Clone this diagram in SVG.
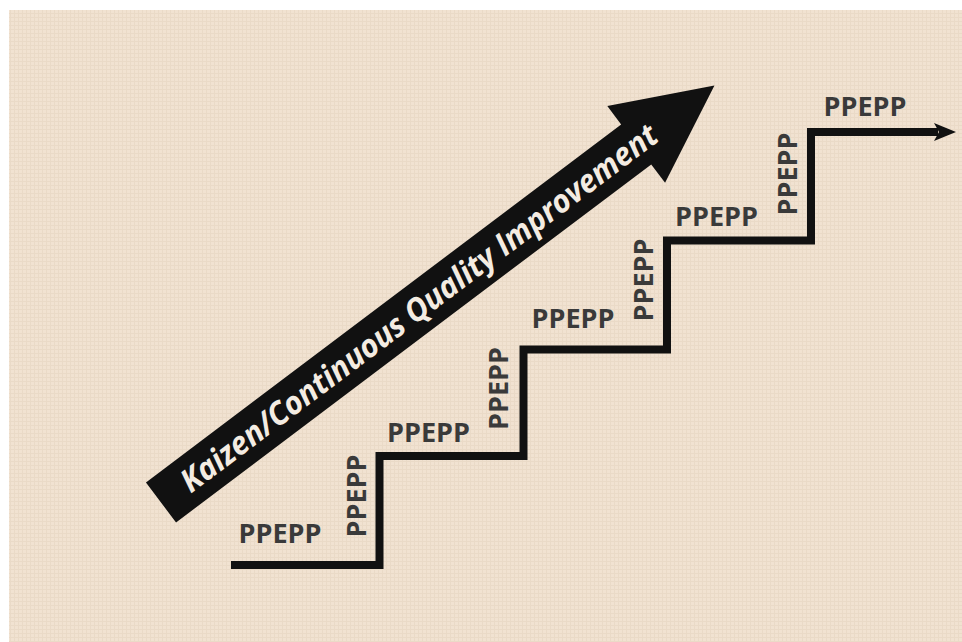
<svg xmlns="http://www.w3.org/2000/svg" width="962" height="642" viewBox="0 0 962 642">
  <defs>
    <pattern id="canvas" width="4" height="4" patternUnits="userSpaceOnUse">
      <rect width="4" height="4" fill="#f1e2d1"/>
      <path d="M0,1.5 H4 M2.5,0 V4" stroke="#dbc6b0" stroke-width="1" opacity="0.3"/>
    </pattern>
    <marker id="stepHead" markerUnits="userSpaceOnUse" markerWidth="24" markerHeight="22" viewBox="0 0 24 22" refX="4" refY="11" orient="auto">
      <path d="M0,2 L22,11 L0,20 L5,11 Z" fill="#111"/>
    </marker>
    <style>
      .lbl { font-family: "Open Sans", "DejaVu Sans", sans-serif; font-weight: 700; font-size: 27px; fill: #3a3a3a; text-anchor: middle; }
      .stairs { fill: none; stroke: #111; stroke-width: 8; stroke-linejoin: miter; stroke-linecap: butt; }
      .bigarrow { fill: #111; }
      .arrowtxt { font-family: "Open Sans", "DejaVu Sans", sans-serif; font-weight: 700; font-style: italic; font-size: 32px; fill: #f4ece2; text-anchor: middle; }
    </style>
  </defs>

  <rect x="0" y="0" width="962" height="642" fill="#ffffff"/>
  <rect x="9" y="10" width="953" height="632" fill="url(#canvas)"/>

  <g id="kaizen-arrow" transform="translate(161,502.5) rotate(-37)">
    <polygon class="bigarrow" points="0,-25 595,-25 595,-48 693,0 595,48 595,25 0,25"/>
    <text class="arrowtxt" x="323" y="11" textLength="588" lengthAdjust="spacingAndGlyphs">Kaizen/Continuous Quality Improvement</text>
  </g>

  <g id="connectors">
    <path class="stairs" d="M231,565 H379.5 V456 H523.5 V349.5 H667 V240.5 H811 V132 H938" marker-end="url(#stepHead)"/>
  </g>

  <g id="step1">
    <text class="lbl" x="280" y="543">PPEPP</text>
  </g>
  <g id="riser1">
    <text class="lbl" transform="translate(366,496) rotate(-90)" x="0" y="0">PPEPP</text>
  </g>
  <g id="step2">
    <text class="lbl" x="428.5" y="442">PPEPP</text>
  </g>
  <g id="riser2">
    <text class="lbl" transform="translate(508,388.5) rotate(-90)" x="0" y="0">PPEPP</text>
  </g>
  <g id="step3">
    <text class="lbl" x="573" y="328">PPEPP</text>
  </g>
  <g id="riser3">
    <text class="lbl" transform="translate(653,280) rotate(-90)" x="0" y="0">PPEPP</text>
  </g>
  <g id="step4">
    <text class="lbl" x="716.5" y="226">PPEPP</text>
  </g>
  <g id="riser4">
    <text class="lbl" transform="translate(797,174) rotate(-90)" x="0" y="0">PPEPP</text>
  </g>
  <g id="step5">
    <text class="lbl" x="865" y="116">PPEPP</text>
  </g>
</svg>
